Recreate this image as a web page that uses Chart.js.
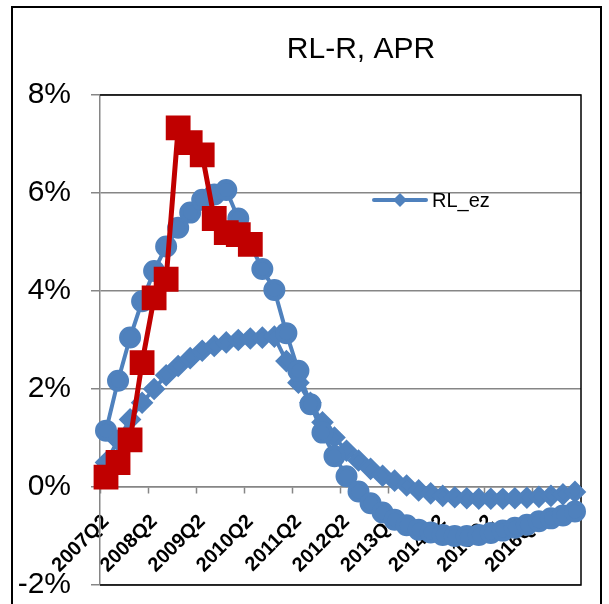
<!DOCTYPE html>
<html>
<head>
<meta charset="utf-8">
<script src="https://cdn.jsdelivr.net/npm/chart.js@4.4.0/dist/chart.umd.min.js"></script>
<style>
  html, body { margin: 0; padding: 0; background: #fff; }
</style>
</head>
<body>
<canvas id="myChart" width="609" height="604"></canvas>
<script>
// Quarters on the x axis
const quarters = [
  '2007Q2', '2007Q3', '2007Q4', '2008Q1', '2008Q2', '2008Q3', '2008Q4', '2009Q1',
  '2009Q2', '2009Q3', '2009Q4', '2010Q1', '2010Q2', '2010Q3', '2010Q4', '2011Q1',
  '2011Q2', '2011Q3', '2011Q4', '2012Q1', '2012Q2', '2012Q3', '2012Q4', '2013Q1',
  '2013Q2', '2013Q3', '2013Q4', '2014Q1', '2014Q2', '2014Q3', '2014Q4', '2015Q1',
  '2015Q2', '2015Q3', '2015Q4', '2016Q1', '2016Q2', '2016Q3', '2016Q4', '2017Q1'
];

// Series values, in percent
const rlValues = [
  1.15, 2.17, 3.05, 3.79, 4.41, 4.91, 5.29, 5.60, 5.86, 5.97,
  6.06, 5.48, 4.95, 4.45, 4.02, 3.14, 2.37, 1.69, 1.11, 0.63,
  0.22, -0.09, -0.33, -0.52, -0.67, -0.78, -0.87, -0.93, -0.98, -1.00,
  -1.00, -0.98, -0.94, -0.89, -0.83, -0.77, -0.70, -0.64, -0.58, -0.50
];
const rlEzValues = [
  0.50, 0.95, 1.38, 1.72, 2.00, 2.28, 2.47, 2.63, 2.78, 2.88,
  2.95, 3.00, 3.03, 3.05, 3.07, 2.57, 2.13, 1.72, 1.32, 1.01,
  0.74, 0.54, 0.37, 0.23, 0.13, 0.03, -0.07, -0.13, -0.18, -0.21,
  -0.23, -0.24, -0.24, -0.24, -0.23, -0.22, -0.20, -0.18, -0.15, -0.10
];
const rValues = [0.20, 0.50, 0.96, 2.54, 3.86, 4.24, 7.33, 7.03, 6.78, 5.48, 5.19, 5.15, 4.95];

// Y axis ticks
const yTicks = [-2, 0, 2, 4, 6, 8];

const blue = '#4F81BD';
const red = '#C00000';
const gridGray = '#868686';

Chart.defaults.font.family = '"Liberation Sans", Arial, sans-serif';
Chart.defaults.color = '#000';

const ctx1 = document.getElementById('myChart').getContext('2d');

// Black frame round the plot (top, right, bottom); left side is the grey y axis
const plotFrame = {
  id: 'plotFrame',
  beforeDatasetsDraw: (chart) => {
    const { ctx, chartArea: a } = chart;
    ctx.save();
    ctx.strokeStyle = '#000';
    ctx.lineWidth = 1.5;
    ctx.beginPath();
    ctx.moveTo(a.left, a.top);
    ctx.lineTo(a.right, a.top);
    ctx.lineTo(a.right, a.bottom);
    ctx.lineTo(a.left, a.bottom);
    ctx.stroke();
    ctx.restore();
  }
};

// Title, outer frame and the single legend entry
const extras = {
  id: 'extras',
  afterDraw: (chart) => {
    const { ctx } = chart;
    ctx.save();
    ctx.strokeStyle = '#000';
    ctx.lineWidth = 2;
    ctx.strokeRect(12, 7, 589, 640);

    ctx.fillStyle = '#000';
    ctx.font = '30px "Liberation Sans", Arial, sans-serif';
    ctx.textAlign = 'center';
    ctx.textBaseline = 'alphabetic';
    ctx.fillText('RL-R, APR', 361, 58);

    // legend: RL_ez
    const ds = chart.data.datasets[2];
    ctx.strokeStyle = ds.borderColor;
    ctx.lineWidth = 4;
    ctx.lineCap = 'round';
    ctx.beginPath();
    ctx.moveTo(374, 200);
    ctx.lineTo(426, 200);
    ctx.stroke();
    ctx.fillStyle = ds.backgroundColor;
    ctx.beginPath();
    ctx.moveTo(400 - 7, 200);
    ctx.lineTo(400, 200 - 7);
    ctx.lineTo(400 + 7, 200);
    ctx.lineTo(400, 200 + 7);
    ctx.closePath();
    ctx.fill();
    ctx.fillStyle = '#000';
    ctx.font = '20px "Liberation Sans", Arial, sans-serif';
    ctx.textAlign = 'left';
    ctx.textBaseline = 'middle';
    ctx.fillText(ds.label, 432, 201);
    ctx.restore();
  }
};

const noPad = (scale) => {
  scale.paddingTop = 0;
  scale.paddingBottom = 0;
  scale.paddingLeft = 0;
  scale.paddingRight = 0;
};

const myLineChart = new Chart(ctx1, {
  type: 'line',
  data: {
    labels: quarters,
    datasets: [
      {
        label: 'R',
        data: rValues,
        borderColor: red,
        backgroundColor: red,
        borderWidth: 5,
        pointStyle: 'rect',
        pointRadius: 14,
        pointHoverRadius: 14
      },
      {
        label: 'RL',
        data: rlValues,
        borderColor: blue,
        backgroundColor: blue,
        borderWidth: 4,
        pointStyle: 'circle',
        pointRadius: 9,
        pointHoverRadius: 9
      },
      {
        label: 'RL_ez',
        data: rlEzValues,
        borderColor: blue,
        backgroundColor: blue,
        borderWidth: 4,
        pointStyle: 'rectRot',
        pointRadius: 8.5,
        pointHoverRadius: 8.5
      }
    ]
  },
  options: {
    responsive: false,
    animation: false,
    layout: {
      padding: { left: 12, right: 28, top: 95, bottom: 17 }
    },
    plugins: {
      legend: { display: false },
      title: { display: false },
      tooltip: { enabled: false }
    },
    elements: {
      line: { tension: 0 }
    },
    scales: {
      x: {
        type: 'category',
        position: { y: 0 },
        offset: true,
        afterFit: (scale) => { scale.height = 0; noPad(scale); },
        grid: {
          offset: true,
          drawOnChartArea: false,
          drawTicks: true,
          tickLength: 6,
          tickWidth: 1.5,
          tickColor: (c) => (c.index !== undefined && c.index % 4 === 0) ? gridGray : 'rgba(0,0,0,0)'
        },
        border: { display: true, color: gridGray, width: 1.5 },
        ticks: {
          autoSkip: false,
          minRotation: 45,
          maxRotation: 45,
          padding: 17,
          font: { size: 20, weight: 'bold' },
          callback: function (value, index) {
            return index % 4 === 0 ? this.getLabelForValue(value) : '';
          }
        }
      },
      y: {
        min: yTicks[0],
        max: yTicks[yTicks.length - 1],
        afterFit: (scale) => { scale.width = 88; noPad(scale); },
        afterBuildTicks: (scale) => { scale.ticks = yTicks.map(v => ({ value: v })); },
        grid: {
          color: gridGray,
          lineWidth: 1.5,
          drawTicks: true,
          tickLength: 9
        },
        border: { display: true, color: gridGray, width: 1.5 },
        ticks: {
          padding: 20,
          font: { size: 30 },
          callback: (v) => v + '%'
        }
      }
    }
  },
  plugins: [plotFrame, extras]
});
</script>
</body>
</html>
